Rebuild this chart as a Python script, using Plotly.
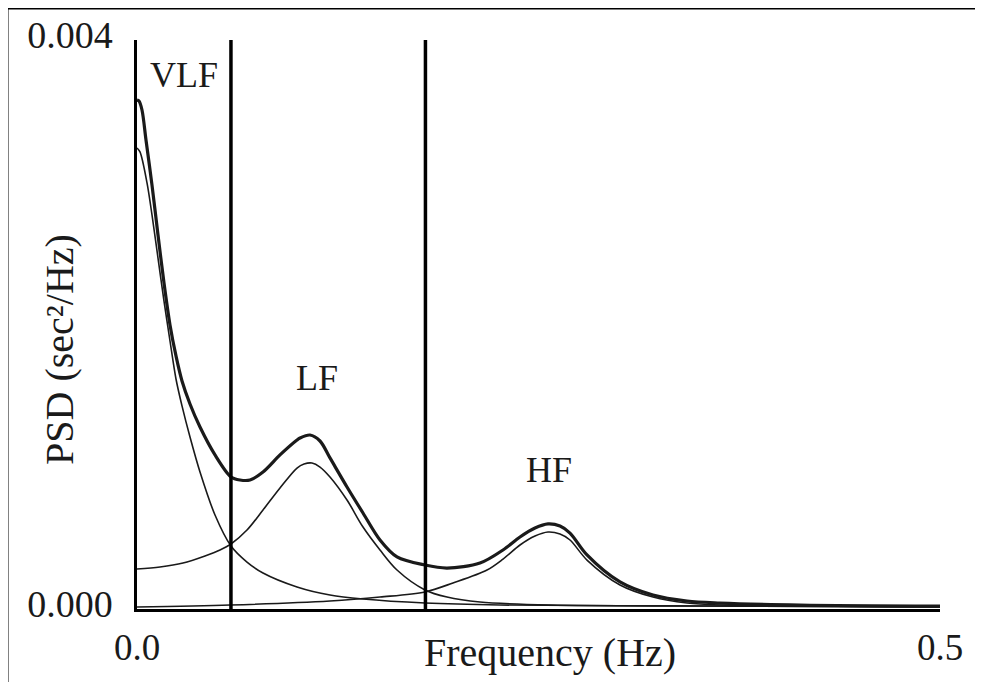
"""
HRV-Spektrum (PSD) mit VLF-, LF- und HF-Komponente plus Gesamtkurve.
Werte grob aus der Vorlage abgelesen.
"""

import plotly.graph_objects as go

# Gesamtspektrum (dicke Linie)
total_freq = [0.0, 0.00125, 0.00311, 0.0056, 0.00934, 0.01308, 0.01681, 0.02055, 0.02428,
              0.02802, 0.03300, 0.03923, 0.04857, 0.05853, 0.06413, 0.07036, 0.07846,
              0.08904, 0.09963, 0.1015, 0.10772, 0.11395, 0.12017, 0.13076, 0.14072,
              0.15131, 0.16189, 0.17933, 0.19303, 0.21357, 0.2279, 0.23848, 0.24782,
              0.25592, 0.26339, 0.26961, 0.2802, 0.30075, 0.3213, 0.34247, 0.36301,
              0.41283, 0.5]
total_psd = [0.003578, 0.003571, 0.003508, 0.003297, 0.002980, 0.002629, 0.002292, 0.001997,
             0.001779, 0.001603, 0.001441, 0.001279, 0.001083, 0.000928, 0.000907, 0.000907,
             0.000963, 0.001083, 0.001188, 0.001202, 0.001223, 0.001181, 0.001062, 0.000858,
             0.000675, 0.000485, 0.000366, 0.000309, 0.000288, 0.000323, 0.000415, 0.000506,
             0.000569, 0.000598, 0.000583, 0.000534, 0.00038, 0.00019, 0.000098, 0.000056,
             0.000042, 0.000028, 0.000021]

# VLF-Komponente
vlf_freq = [0.0, 0.00187, 0.00623, 0.00934, 0.01308, 0.01681, 0.02055, 0.02428, 0.02802,
            0.03300, 0.03923, 0.04857, 0.05853, 0.06849, 0.07846, 0.09963, 0.12017,
            0.14072, 0.17933, 0.22603, 0.35056, 0.5]
vlf_psd = [0.003241, 0.003213, 0.002995, 0.002770, 0.002467, 0.002165, 0.001884, 0.001617,
           0.001428, 0.001209, 0.000963, 0.000661, 0.000443, 0.000330, 0.000253, 0.000155,
           0.000098, 0.00007, 0.000042, 0.000028, 0.000021, 0.000014]

# LF-Komponente
lf_freq = [0.0, 0.01432, 0.02864, 0.04234, 0.05168, 0.05853, 0.06849, 0.07846, 0.08904,
           0.09963, 0.10399, 0.10897, 0.11395, 0.12017, 0.13076, 0.14072, 0.15131, 0.16189,
           0.17933, 0.19303, 0.21357, 0.25716, 0.35056, 0.5]
lf_psd = [0.000281, 0.000295, 0.000323, 0.000373, 0.000415, 0.000457, 0.000555, 0.000696,
          0.000851, 0.000991, 0.001019, 0.001026, 0.000998, 0.000928, 0.000766, 0.000576,
          0.000415, 0.000274, 0.000134, 0.000084, 0.000049, 0.000028, 0.000021, 0.000014]

# HF-Komponente
hf_freq = [0.0, 0.05791, 0.12017, 0.15131, 0.17933, 0.19676, 0.21793, 0.2279, 0.23848,
           0.24782, 0.25592, 0.26339, 0.26961, 0.2802, 0.30075, 0.3213, 0.34247, 0.36301,
           0.41283, 0.5]
hf_psd = [0.000014, 0.000028, 0.000056, 0.000084, 0.00012, 0.000183, 0.000274, 0.000351,
          0.00045, 0.000513, 0.000541, 0.000527, 0.000485, 0.000344, 0.000169, 0.000084,
          0.000042, 0.000028, 0.000021, 0.000014]

# Bandgrenzen (vertikale Linien) und Bandbeschriftungen
band_edges = [0.0585, 0.1796]
band_labels = ["VLF", "LF", "HF"]
band_label_x = [0.0293, 0.1121, 0.2565]
band_label_y = [0.003754, 0.001624, 0.000977]

x_ticks = [0.0, 0.5]
x_ticktext = ["0.0", "0.5"]
y_ticks = [0.0, 0.004]
y_ticktext = ["0.000", "0.004"]

FONT = "Liberation Serif"
INK = "#1a1a1a"


def build_figure() -> go.Figure:
    fig = go.Figure()
    for fx, fy in [(vlf_freq, vlf_psd), (lf_freq, lf_psd), (hf_freq, hf_psd)]:
        fig.add_trace(go.Scatter(x=fx, y=fy, mode="lines",
                                 line=dict(color=INK, width=1.6, shape="spline", smoothing=0.9),
                                 showlegend=False, hoverinfo="skip"))
    fig.add_trace(go.Scatter(x=total_freq, y=total_psd, mode="lines",
                             line=dict(color=INK, width=3.2, shape="spline", smoothing=0.9),
                             showlegend=False))

    for edge in band_edges:
        fig.add_shape(type="line", xref="x", yref="y", x0=edge, x1=edge, y0=-0.00002, y1=0.004,
                      line=dict(color="black", width=3.5))

    for txt, lx, ly in zip(band_labels, band_label_x, band_label_y):
        fig.add_annotation(x=lx, y=ly, xref="x", yref="y", text=txt, showarrow=False,
                           font=dict(family=FONT, size=36, color=INK))

    # Achsentitel liegen in der Vorlage zwischen den Tick-Labels -> als Annotation
    fig.add_annotation(x=0.5143, y=-0.0756, xref="paper", yref="paper", text="Frequency (Hz)",
                       xanchor="center", yanchor="middle", showarrow=False,
                       font=dict(family=FONT, size=40, color=INK))
    fig.add_annotation(x=-0.0959, y=0.457, xref="paper", yref="paper", text="PSD (sec²/Hz)",
                       xanchor="center", yanchor="middle", textangle=-90, showarrow=False,
                       font=dict(family=FONT, size=40, color=INK))

    # Rahmen um das ganze Bild
    fig.add_shape(type="rect", xref="paper", yref="paper", x0=-0.1619, x1=1.0498, y0=-0.1424, y1=1.0562,
                  line=dict(color="black", width=3), layer="below")

    fig.update_xaxes(range=[0, 0.5], tickvals=x_ticks, ticktext=x_ticktext, showgrid=False, zeroline=False,
                     showline=True, linecolor="black", linewidth=2.5, ticks="", automargin=False,
                     tickfont=dict(family=FONT, size=37, color=INK), ticklabelstandoff=4)
    fig.update_yaxes(range=[0, 0.004], tickvals=y_ticks, ticktext=y_ticktext, showgrid=False, zeroline=False,
                     showline=True, linecolor="black", linewidth=2.5, ticks="", automargin=False,
                     tickfont=dict(family=FONT, size=38, color=INK), ticklabelstandoff=14,
                     ticklabelshift=-5)
    # die Seite hat 8px Body-Rand, daher Ränder um 8px verschoben
    fig.update_layout(width=983, height=682, margin=dict(l=129, r=51, t=32, b=81),
                      paper_bgcolor="white", plot_bgcolor="white")
    return fig


if __name__ == "__main__":
    fig = build_figure()
    fig.write_html("out.html")
